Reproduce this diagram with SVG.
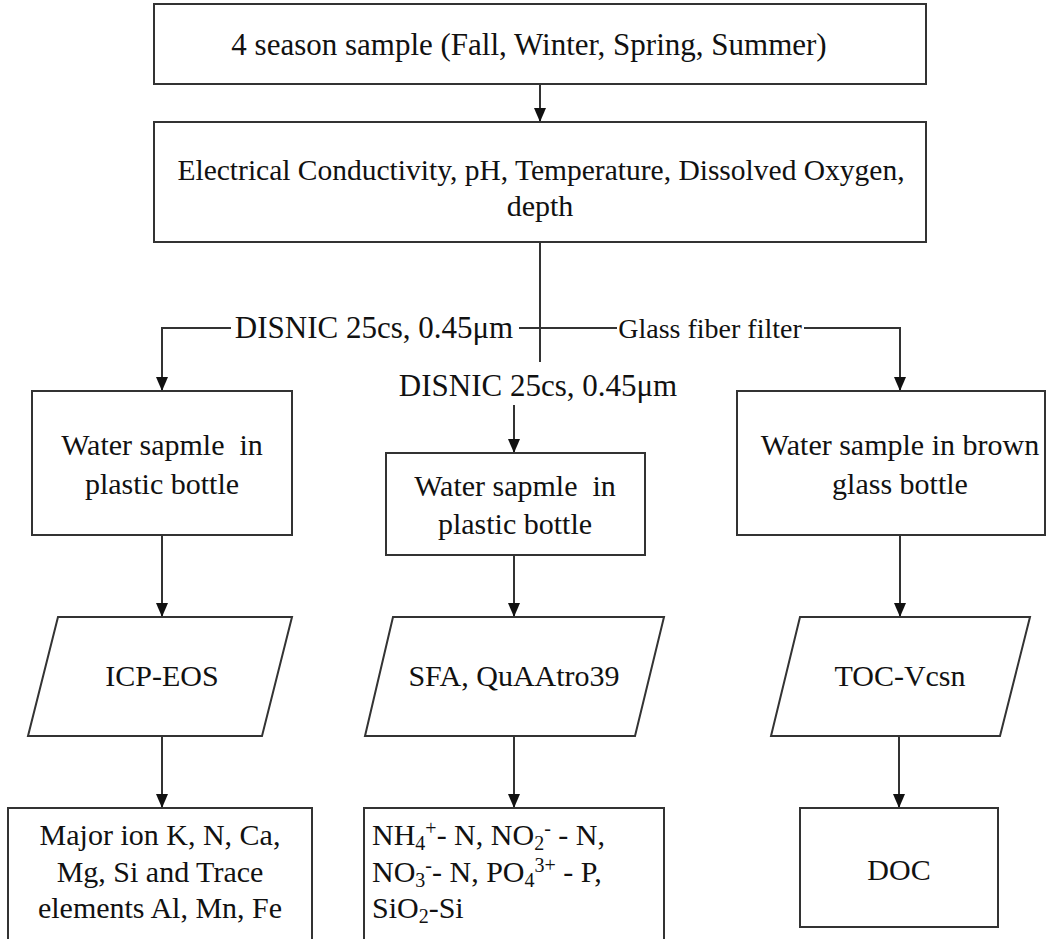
<svg xmlns="http://www.w3.org/2000/svg" width="1048" height="939" viewBox="0 0 1048 939">
<style>
.box{fill:#fff;stroke:#333;stroke-width:2}
.ln{fill:none;stroke:#333;stroke-width:2}
text{font-family:"Liberation Serif","DejaVu Serif Condensed","DejaVu Serif",serif;fill:#111}
.t{font-size:30px;text-anchor:middle}
.tl{font-size:30px}
.lab{font-size:31px;text-anchor:middle}
.s{font-size:20px}
</style>
<defs>
<marker id="arr" markerUnits="userSpaceOnUse" markerWidth="14" markerHeight="12" refX="14" refY="6" orient="auto">
<path d="M0,0 L14,6 L0,12 z" fill="#111"/>
</marker>
</defs>
<rect width="1048" height="939" fill="#fff"/>
<g id="connectors">
<line class="ln" x1="540" y1="84" x2="540" y2="122" marker-end="url(#arr)"/>
<line class="ln" x1="540" y1="242" x2="540" y2="362"/>
<polyline class="ln" points="231,328 162,328 162,391" marker-end="url(#arr)"/>
<line class="ln" x1="519" y1="328" x2="617" y2="328"/>
<polyline class="ln" points="804,328 900,328 900,391" marker-end="url(#arr)"/>
<line class="ln" x1="514" y1="405" x2="514" y2="453" marker-end="url(#arr)"/>
<line class="ln" x1="162" y1="535" x2="162" y2="617" marker-end="url(#arr)"/>
<line class="ln" x1="514" y1="555" x2="514" y2="617" marker-end="url(#arr)"/>
<line class="ln" x1="900" y1="535" x2="900" y2="617" marker-end="url(#arr)"/>
<line class="ln" x1="162" y1="736" x2="162" y2="808" marker-end="url(#arr)"/>
<line class="ln" x1="514" y1="736" x2="514" y2="808" marker-end="url(#arr)"/>
<line class="ln" x1="899" y1="736" x2="899" y2="808" marker-end="url(#arr)"/>
<text class="lab" x="374" y="338">DISNIC 25cs, 0.45μm</text>
<text class="lab" x="710" y="338" style="font-size:28px">Glass fiber filter</text>
<text class="lab" x="538" y="396">DISNIC 25cs, 0.45μm</text>
</g>
<g id="n1">
<rect class="box" x="154" y="4" width="772" height="80"/>
<text class="t" x="529" y="55" style="font-size:31px">4 season sample (Fall, Winter, Spring, Summer)</text>
</g>
<g id="n2">
<rect class="box" x="154" y="122" width="772" height="120"/>
<text class="t" x="541" y="180" style="font-size:29.5px">Electrical Conductivity, pH, Temperature, Dissolved Oxygen,</text>
<text class="t" x="540" y="216">depth</text>
</g>
<g id="n3">
<rect class="box" x="32" y="391" width="260" height="144"/>
<text class="t" x="162" y="455" xml:space="preserve">Water sapmle  in</text>
<text class="t" x="162" y="494">plastic bottle</text>
</g>
<g id="n4">
<rect class="box" x="386" y="453" width="259" height="102"/>
<text class="t" x="515" y="496" xml:space="preserve">Water sapmle  in</text>
<text class="t" x="515" y="534">plastic bottle</text>
</g>
<g id="n5">
<rect class="box" x="737" y="391" width="308" height="144"/>
<text class="t" x="900" y="455">Water sample in brown</text>
<text class="t" x="900" y="494">glass bottle</text>
</g>
<g id="n6">
<polygon class="box" points="58,617 292,617 262,736 28,736"/>
<text class="t" x="162" y="686">ICP-EOS</text>
</g>
<g id="n7">
<polygon class="box" points="393,617 664,617 635,736 365,736"/>
<text class="t" x="514" y="686">SFA, QuAAtro39</text>
</g>
<g id="n8">
<polygon class="box" points="800,617 1030,617 1000,736 771,736"/>
<text class="t" x="900" y="686">TOC-Vcsn</text>
</g>
<g id="n9">
<rect class="box" x="8" y="808" width="304" height="140"/>
<text class="t" x="160" y="845">Major ion K, N, Ca,</text>
<text class="t" x="160" y="882">Mg, Si and Trace</text>
<text class="t" x="160" y="918">elements Al, Mn, Fe</text>
</g>
<g id="n10">
<rect class="box" x="364" y="808" width="300" height="140"/>
<text class="tl" x="372" y="845">NH<tspan class="s" dy="5">4</tspan><tspan class="s" dy="-15">+</tspan><tspan dy="10">- N, NO</tspan><tspan class="s" dy="5">2</tspan><tspan class="s" dy="-15">-</tspan><tspan dy="10" xml:space="preserve"> - N,</tspan></text>
<text class="tl" x="372" y="882">NO<tspan class="s" dy="5">3</tspan><tspan class="s" dy="-15">-</tspan><tspan dy="10">- N, PO</tspan><tspan class="s" dy="5">4</tspan><tspan class="s" dy="-15">3+</tspan><tspan dy="10" xml:space="preserve"> - P,</tspan></text>
<text class="tl" x="372" y="918">SiO<tspan class="s" dy="5">2</tspan><tspan dy="-5">-Si</tspan></text>
</g>
<g id="n11">
<rect class="box" x="800" y="808" width="198" height="119"/>
<text class="t" x="899" y="880">DOC</text>
</g>
</svg>
